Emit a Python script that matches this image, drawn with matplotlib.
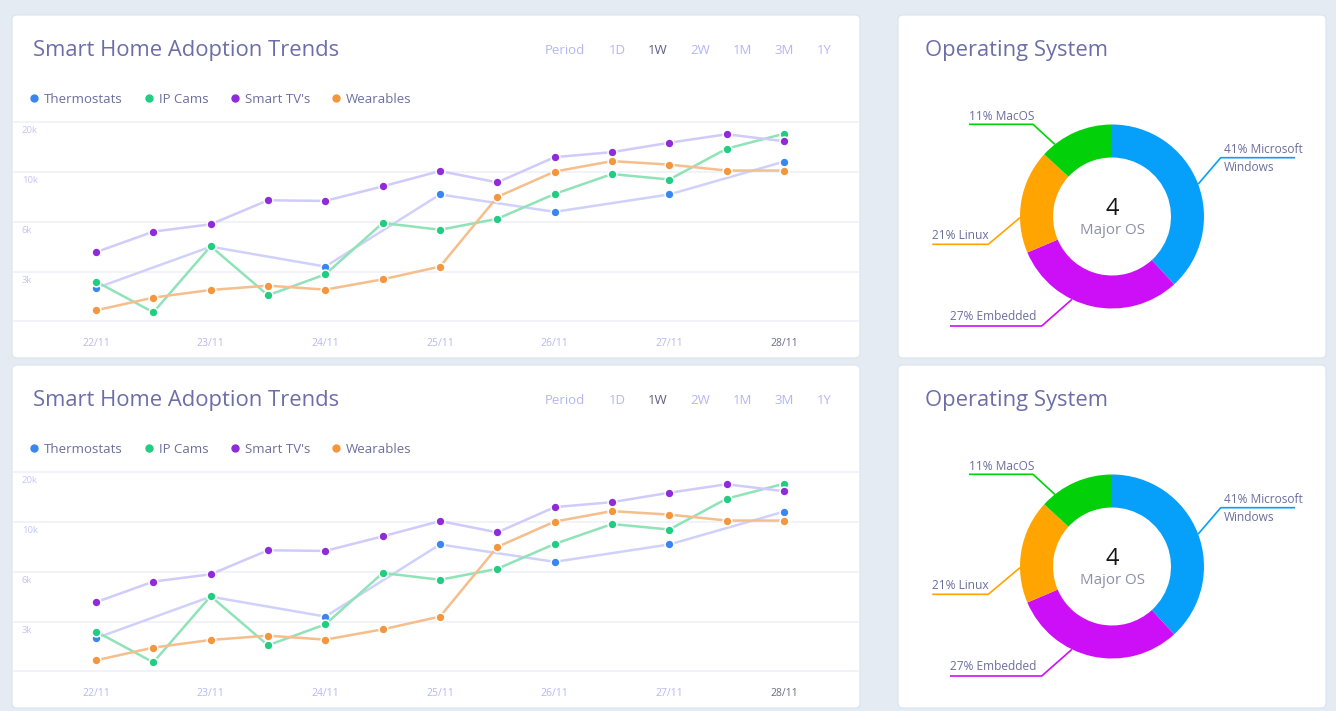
import numpy as np
import pandas as pd
import matplotlib
matplotlib.use('Agg')
import matplotlib.pyplot as plt
from matplotlib.patches import FancyBboxPatch
from matplotlib.lines import Line2D

plt.rcParams['font.family'] = ['Open Sans', 'DejaVu Sans']

# ---- line chart data ----
times = pd.date_range('2023-11-22', '2023-11-28', freq='12h')
days = pd.date_range('2023-11-22', '2023-11-28', freq='D')
day_labels = ['22/11', '23/11', '24/11', '25/11', '26/11', '27/11', '28/11']

thermostats = [2000, 4500, 3300, 8200, 6800, 8200, 12100]   # one point per day
ip_cams = [2400, 540, 4530, 1570, 2830, 5930, 5520, 6240, 8240, 9840, 9400, 14700, 17700]
smart_tvs = [4170, 5410, 5850, 7730, 7680, 8850, 10200, 9170, 13000, 14000, 15900, 17600, 16200]
wearables = [660, 1430, 1890, 2150, 1910, 2530, 3300, 8000, 10100, 12200, 11500, 10300, 10300]

series_names = ['Thermostats', 'IP Cams', "Smart TV's", 'Wearables']
y_ticks = [0, 3000, 6000, 10000, 20000]
y_tick_labels = ['', '3k', '6k', '10k', '20k']
periods = ['Period', '1D', '1W', '2W', '1M', '3M', '1Y']

# ---- donut data ----
os_labels = ['41% Microsoft\nWindows', '27% Embedded', '21% Linux', '11% MacOS']
os_share = [38.2, 30.4, 18.2, 13.2]   # arc sizes as drawn in the picture
os_count = 4

# ---- styles ----
W, H = 1336, 711
dot_colors = ['#3a86f0', '#22cc80', '#8f2bd8', '#f4963d']
line_colors = ['#d0d1fb', '#8fe3b7', '#cfcbfa', '#f5be8b']
pie_colors = ['#06a0fb', '#cd0ff8', '#ffa400', '#02d10a']
title_color = '#6b6ea8'
text_color = '#6b6f9c'
light_color = '#b3b6f5'

# the value axis is not linear: 3k, 6k, 10k, 20k are evenly spaced
lvl_v = [-3000, 0, 3000, 6000, 10000, 20000, 30000]
lvl_p = [-1, 0, 1, 2, 3, 4, 5]


def fwd(v):
    return np.interp(v, lvl_v, lvl_p)


def inv(p):
    return np.interp(p, lvl_p, lvl_v)


fig = plt.figure(figsize=(W / 100, H / 100), dpi=100)
fig.patch.set_facecolor('#e4ebf3')

bg = fig.add_axes([0, 0, 1, 1], zorder=-10)
bg.set_xlim(0, W)
bg.set_ylim(H, 0)
bg.axis('off')


def ax_px(x0, y0, x1, y1):
    return fig.add_axes([x0 / W, 1 - y1 / H, (x1 - x0) / W, (y1 - y0) / H])


def draw_row(dy):
    for x0, x1 in [(12, 860), (898, 1326)]:
        bg.add_patch(FancyBboxPatch((x0, 15 + dy), x1 - x0, 343,
                                    boxstyle='round,pad=0,rounding_size=5',
                                    fc='white', ec='#dbe3ed', lw=0.8))

    # --- line chart panel ---
    bg.text(33, 55.7 + dy, 'Smart Home Adoption Trends', fontsize=15.8,
            color=title_color, va='baseline')
    px = [565, 617, 658, 700, 742, 784, 824]
    for p, x in zip(periods, px):
        bg.text(x, 54 + dy, p, fontsize=9.5, ha='center', va='baseline',
                color='#5f6080' if p == '1W' else light_color)

    ax = ax_px(12, 115 + dy, 860, 325 + dy)
    ax.set_facecolor('none')
    ax.set_yscale('function', functions=(fwd, inv))
    data = [(days, thermostats), (times, ip_cams), (times, smart_tvs), (times, wearables)]
    for (x, y), lc, dc, name in zip(data, line_colors, dot_colors, series_names):
        ax.plot(x, y, color=lc, lw=1.8, marker='o', ms=6.4, mfc=dc,
                mec='white', mew=1.1, label=name)
    ax.set_xlim(days[0] - pd.Timedelta(days=0.7326), days[-1] + pd.Timedelta(days=0.6628))
    ax.set_ylim(-223, 21470)
    ax.set_yticks(y_ticks)
    ax.set_yticklabels([])
    ax.grid(axis='y', color='#edf0f7', lw=1.1)
    ax.set_xticks(days)
    ax.set_xticklabels(day_labels)
    ax.tick_params(axis='x', length=0, pad=9, labelsize=7.5, labelcolor='#b6b9f4')
    ax.tick_params(axis='y', length=0)
    ax.get_xticklabels()[-1].set_color('#6c6c86')
    for v, lbl in zip(y_ticks, y_tick_labels):
        ax.annotate(lbl, xy=(0, v), xycoords=('axes fraction', 'data'),
                    xytext=(10, -8.5), textcoords='offset pixels',
                    fontsize=6.8, color='#c3c5f5', ha='left', va='center')
    for s in ax.spines.values():
        s.set_visible(False)

    handles = [Line2D([], [], ls='none', marker='o', ms=5, color=c) for c in dot_colors]
    ax.legend(handles, series_names, loc='center left', ncol=4, frameon=False,
              bbox_to_anchor=(29.8 / W, 1 - (99.3 + dy) / H), bbox_transform=fig.transFigure,
              fontsize=9.5, labelcolor=text_color, handlelength=0.6,
              handletextpad=0.45, columnspacing=1.7, borderpad=0, borderaxespad=0)

    # --- donut panel ---
    bg.text(925, 55.7 + dy, 'Operating System', fontsize=15.8,
            color=title_color, va='baseline')
    cx, cy = 1112, 216.5
    dax = ax_px(898, 15 + dy, 1326, 358 + dy)
    dax.pie(os_share, colors=pie_colors, startangle=90, counterclock=False,
            radius=92, wedgeprops=dict(width=33, linewidth=0))
    dax.set_xlim(898 - cx, 1326 - cx)
    dax.set_ylim(cy - 358, cy - 15)
    dax.set_aspect('auto')
    dax.axis('off')
    dax.text(0, cy - 209, str(os_count), fontsize=17, color='#151515',
             ha='center', va='center')
    dax.text(0, cy - 231, 'Major OS', fontsize=10.9, color='#8b90a8',
             ha='center', va='center')

    # leader lines: start angle on the ring, elbow and end in panel pixels
    leaders = [(20.6, (1220.7, 157.7), 1295, (1224, 158.5)),
               (-115.8, (1041.7, 326), 950, (950, 316.7)),
               (-179.3, (988.3, 244.3), 932.3, (931.7, 235.7)),
               (128.4, (1033, 124.3), 969, (969, 116))]
    for (ang, elbow, end_x, tpos), lbl, col in zip(leaders, os_labels, pie_colors):
        a = np.deg2rad(ang)
        xs = [92 * np.cos(a), elbow[0] - cx, end_x - cx]
        ys = [92 * np.sin(a), cy - elbow[1], cy - elbow[1]]
        dax.plot(xs, ys, color=col, lw=1.2, clip_on=False, solid_capstyle='butt')
        dax.text(tpos[0] - cx, cy - tpos[1], lbl, fontsize=8.6, color=text_color,
                 ha='left', va='center', linespacing=1.5)


draw_row(0)
draw_row(350)

fig.savefig('out.png', dpi=100, facecolor=fig.get_facecolor())
